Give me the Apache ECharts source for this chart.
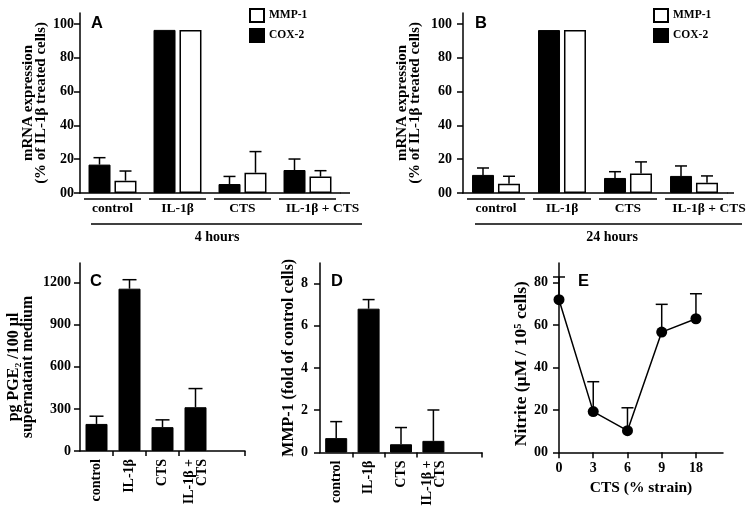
<!DOCTYPE html>
<html><head><meta charset="utf-8">
<script src="https://cdn.jsdelivr.net/npm/echarts@6/dist/echarts.min.js"></script>
<style>html,body{margin:0;padding:0;background:#fff}#c{width:751px;height:514px}</style>
</head><body><div id="c"></div>
<script>
// ---- data ----
const groupsAB = ['control', 'IL-1β', 'CTS', 'IL-1β + CTS'];
const cox2_4h = [16.8, 96.5, 5.3, 13.6];
const cox2_4hErr = [4.1, 0, 4.5, 6.5];
const mmp1_4h = [7.3, 96.5, 12.0, 9.7];
const mmp1_4hErr = [5.7, 0, 12.5, 3.5];
const cox2_24h = [10.7, 96.4, 8.9, 10.1];
const cox2_24hErr = [4.1, 0, 3.7, 5.9];
const mmp1_24h = [5.5, 96.4, 11.5, 6.1];
const mmp1_24hErr = [4.4, 0, 6.9, 4.0];
const groupsCD = ['control', 'IL-1β', 'CTS', 'IL-1β +\nCTS', ''];
const pge2 = [193, 1157, 170, 312];
const pge2Err = [55, 64, 52, 133];
const mmp1Fold = [0.68, 6.8, 0.39, 0.55];
const mmp1FoldErr = [0.78, 0.43, 0.79, 1.46];
const strains = ['0', '3', '6', '9', '18'];
const strainPos = [0, 1, 2, 3, 4];
const nitrite = [72.0, 19.2, 10.2, 56.7, 63.0];
const nitriteErr = [10.7, 14.1, 10.8, 13.1, 11.8];
const ticksAB = [0, 20, 40, 60, 80, 100];
const ticksC = [0, 300, 600, 900, 1200];
const ticksD = [0, 2, 4, 6, 8];
const ticksE = [0, 20, 40, 60, 80];

// ---- helpers ----
const FONT = 'Liberation Serif';
const txt = (size) => ({fontFamily: FONT, fontWeight: 'bold', fontSize: size, color: '#000'});
const axisLine = {show: true, lineStyle: {color: '#000', width: 1.5}};
const zeroFmt = (v) => (v === 0 ? '00' : String(v));
const plainFmt = (v) => String(v);

function yAx(grid, max, ticks, fmt, margin, name, gap, nameSize, lh, pad) {
  return {
    type: 'value', gridIndex: grid, min: 0, max: max,
    axisLine: axisLine, splitLine: {show: false},
    axisTick: {show: true, length: 6, lineStyle: {color: '#000', width: 1.5}, customValues: ticks},
    axisLabel: Object.assign({customValues: ticks, formatter: fmt, margin: margin}, txt(14)),
    name: name, nameLocation: 'middle', nameRotate: 90, nameGap: gap,
    nameTextStyle: Object.assign({lineHeight: lh, padding: pad || 0}, txt(nameSize))
  };
}
function catAxAB(grid) {
  return {
    type: 'category', gridIndex: grid, data: groupsAB,
    axisLine: axisLine, axisTick: {show: false},
    axisLabel: Object.assign({
      interval: 0, margin: 9,
      formatter: (v, i) => (i === groupsAB.length - 1 ? '{r|' + v + '}' : v),
      rich: {r: Object.assign({padding: [0, 0, 0, 30]}, txt(13.5))}
    }, txt(13.5))
  };
}
function catAxCD(grid) {
  return {
    type: 'category', gridIndex: grid, data: groupsCD,
    axisLine: axisLine,
    axisTick: {show: true, length: 5, interval: (i) => i >= 1 && i <= 3, lineStyle: {color: '#000', width: 1.5}},
    axisLabel: Object.assign({interval: 0, rotate: 90, margin: 8, lineHeight: 13}, txt(14))
  };
}
function errSeries(ax, xs, vals, errs, offset, capHalf) {
  return {
    type: 'custom', xAxisIndex: ax, yAxisIndex: ax, z: 1, silent: true,
    data: vals.map((v, i) => [xs[i], v, errs[i]]),
    encode: {x: 0, y: 1},
    renderItem: function (params, api) {
      const x = api.value(0), v = api.value(1), e = api.value(2);
      if (!e) return null;
      const p0 = api.coord([x, v]);
      const p1 = api.coord([x, v + e]);
      const cx = p0[0] + offset;
      const st = {stroke: '#000', lineWidth: 1.5};
      return {type: 'group', children: [
        {type: 'line', shape: {x1: cx, y1: p0[1], x2: cx, y2: p1[1]}, style: st},
        {type: 'line', shape: {x1: cx - capHalf, y1: p1[1], x2: cx + capHalf, y2: p1[1]}, style: st}
      ]};
    }
  };
}
const idx4 = [0, 1, 2, 3];
const blackBar = {color: '#000', borderColor: '#000', borderWidth: 1};
const whiteBar = {color: '#fff', borderColor: '#000', borderWidth: 1.5};
const legendBase = {
  data: ['MMP-1', 'COX-2'], orient: 'vertical', top: 8, padding: 0,
  itemWidth: 14, itemHeight: 13, itemGap: 5, icon: 'rect', selectedMode: false,
  textStyle: txt(11.5)
};
const nameAB = 'mRNA expression\n(% of IL-1β treated cells)';

const option = {
  animation: false,
  backgroundColor: '#fff',
  grid: [
    {left: 80, top: 13, width: 260, height: 180},
    {left: 463, top: 13, width: 264, height: 180},
    {left: 80, top: 263, width: 165, height: 188},
    {left: 320, top: 263, width: 162, height: 189.5},
    {left: 559, top: 263, width: 164, height: 189.3}
  ],
  legend: [
    Object.assign({left: 249}, legendBase),
    Object.assign({left: 653}, legendBase)
  ],
  xAxis: [
    catAxAB(0), catAxAB(1), catAxCD(2), catAxCD(3),
    {
      type: 'value', gridIndex: 4, min: 0, max: 4.79,
      axisLine: axisLine, splitLine: {show: false},
      axisTick: {show: true, length: 6, lineStyle: {color: '#000', width: 1.5}, customValues: strainPos},
      axisLabel: Object.assign({customValues: strainPos, formatter: (v) => strains[v], margin: 9}, txt(14)),
      name: 'CTS (% strain)', nameLocation: 'middle', nameGap: 28, nameTextStyle: txt(15.5)
    }
  ],
  yAxis: [
    yAx(0, 106.5, ticksAB, zeroFmt, 6, nameAB, 33, 15, 12.5),
    yAx(1, 106.5, ticksAB, zeroFmt, 11, nameAB, 42, 15, 12.5),
    yAx(2, 1340, ticksC, plainFmt, 9, 'pg PGE₂ /100 µl\nsupernatant medium', 45, 16, 14, [0, 20, 0, 0]),
    yAx(3, 8.96, ticksD, plainFmt, 12, 'MMP-1 (fold of control cells)', 20, 16, 16),
    yAx(4, 89.3, ticksE, zeroFmt, 11, 'Nitrite (µM / 10⁵ cells)', 29, 17.5, 17.5, [0, 12, 0, 0])
  ],
  series: [
    {type: 'bar', name: 'COX-2', xAxisIndex: 0, yAxisIndex: 0, data: cox2_4h, barWidth: 22, barGap: '18%', itemStyle: blackBar},
    {type: 'bar', name: 'MMP-1', xAxisIndex: 0, yAxisIndex: 0, data: mmp1_4h, barWidth: 22, barGap: '18%', itemStyle: whiteBar},
    errSeries(0, idx4, cox2_4h, cox2_4hErr, -13, 6),
    errSeries(0, idx4, mmp1_4h, mmp1_4hErr, 13, 6),
    {type: 'bar', name: 'COX-2', xAxisIndex: 1, yAxisIndex: 1, data: cox2_24h, barWidth: 22, barGap: '18%', itemStyle: blackBar},
    {type: 'bar', name: 'MMP-1', xAxisIndex: 1, yAxisIndex: 1, data: mmp1_24h, barWidth: 22, barGap: '18%', itemStyle: whiteBar},
    errSeries(1, idx4, cox2_24h, cox2_24hErr, -13, 6),
    errSeries(1, idx4, mmp1_24h, mmp1_24hErr, 13, 6),
    {type: 'bar', name: 'PGE2', xAxisIndex: 2, yAxisIndex: 2, data: pge2, barWidth: 22, itemStyle: blackBar},
    errSeries(2, idx4, pge2, pge2Err, 0, 7),
    {type: 'bar', name: 'MMP-1 fold', xAxisIndex: 3, yAxisIndex: 3, data: mmp1Fold, barWidth: 22, itemStyle: blackBar},
    errSeries(3, idx4, mmp1Fold, mmp1FoldErr, 0, 6),
    errSeries(4, strainPos, nitrite, nitriteErr, 0, 6),
    {type: 'line', name: 'Nitrite', xAxisIndex: 4, yAxisIndex: 4, z: 3,
     data: nitrite.map((v, i) => [strainPos[i], v]),
     symbol: 'circle', symbolSize: 11, itemStyle: {color: '#000'}, lineStyle: {color: '#000', width: 1.5}}
  ]
};

const chart = echarts.init(document.getElementById('c'), null, {renderer: 'canvas'});
chart.setOption(option);

// ---- annotations (letters, group underlines, time labels) ----
const ln = (x1, y1, x2, y2) => ({type: 'line', silent: true, shape: {x1, y1, x2, y2}, style: {stroke: '#000', lineWidth: 1.5}});
const letter = (t, x, y) => ({type: 'text', left: x, top: y, silent: true,
  style: {text: t, fontFamily: 'Liberation Sans', fontWeight: 'bold', fontSize: 16.5, fill: '#000'}});
const label = (t, cx, y) => ({type: 'text', silent: true, x: cx, y: y,
  style: {text: t, fontFamily: FONT, fontWeight: 'bold', fontSize: 14, fill: '#000', textAlign: 'center', textVerticalAlign: 'middle'}});

const g = [
  letter('A', 91, 15), letter('B', 475, 15), letter('C', 90, 273), letter('D', 331, 273), letter('E', 578, 273)
];
[0, 1].forEach((ax) => {
  const c0 = chart.convertToPixel({xAxisIndex: ax}, groupsAB[0]);
  const c1 = chart.convertToPixel({xAxisIndex: ax}, groupsAB[1]);
  const band = c1 - c0;
  groupsAB.forEach((name) => {
    const cx = chart.convertToPixel({xAxisIndex: ax}, name);
    g.push(ln(cx - band / 2 + 4, 199, cx + band / 2 - 4, 199));
  });
});
g.push(ln(340, 193, 350, 193));
g.push(ln(727, 193, 734, 193));
g.push(ln(91, 224, 362, 224));
g.push(ln(475, 224, 742, 224));
g.push(label('4 hours', 217, 237));
g.push(label('24 hours', 612, 237));
chart.setOption({graphic: g});
</script>
</body></html>
